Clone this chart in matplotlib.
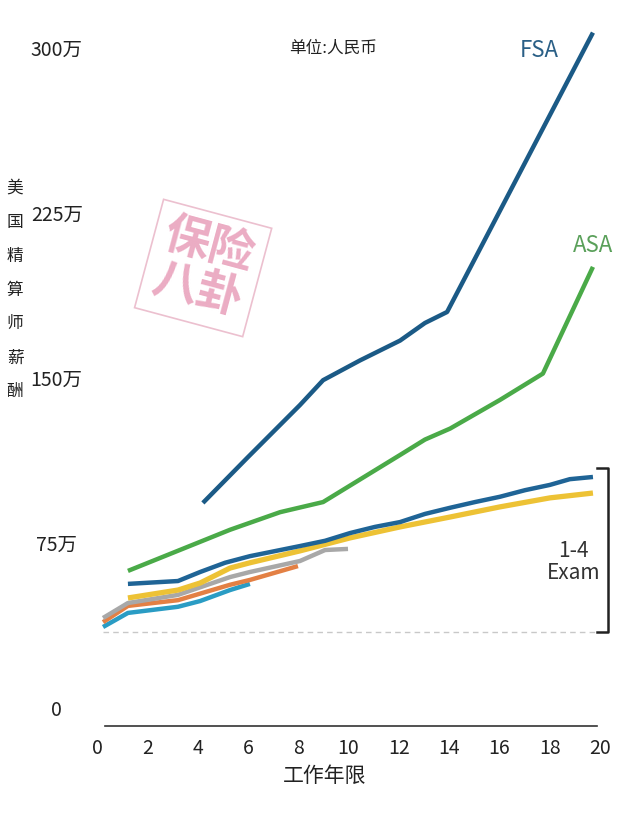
import matplotlib.pyplot as plt

plt.rcParams['font.family'] = ['Noto Sans CJK SC', 'DejaVu Sans']

# 数据 (单位: 万元人民币)
fsa_x = [4.21, 6.0, 8.07, 8.99, 10.46, 12.05, 13.04, 13.92, 19.72]
fsa_y = [93.2, 114, 137.7, 149, 158, 167, 175, 180, 307]

asa_x = [1.23, 5.29, 7.28, 8.99, 12.05, 13.04, 14.04, 16.02, 17.73, 19.72]
asa_y = [62.3, 81, 89, 93.6, 115, 122, 127, 140, 152, 200.5]

blue_x = [1.23, 3.22, 4.1, 5.09, 6.08, 8.07, 9.07, 10.06, 11.05, 12.05, 13.04,
          14.04, 15.03, 16.02, 17.02, 18.01, 18.8, 19.72]
blue_y = [56.4, 57.7, 61.8, 66, 69, 73.6, 76, 79.5, 82.3, 84.5, 88.2,
          91, 93.6, 96, 99, 101.4, 104, 105]

yellow_x = [1.23, 3.22, 4.1, 5.29, 6.08, 8.07, 10.06, 12.05, 14.04, 16.02, 18.01, 19.72]
yellow_y = [50, 53.6, 56.8, 63.6, 66, 71.4, 77.3, 82.3, 86.8, 91.4, 95.5, 97.7]

gray_x = [0.24, 1.23, 3.22, 5.29, 6.08, 8.07, 9.07, 9.98]
gray_y = [40.9, 47.7, 51.4, 59.5, 61.8, 66.8, 71.8, 72.3]

orange_x = [0.24, 1.23, 3.22, 5.29, 6.08, 7.99]
orange_y = [39, 46.4, 49, 56, 58.2, 64.5]

teal_x = [0.24, 1.23, 3.22, 4.1, 5.29, 6.08]
teal_y = [36.8, 43.2, 46, 48.6, 53.6, 56.4]

y_ticks = [0, 75, 150, 225, 300]
y_labels = ['0', '75万', '150万', '225万', '300万']
x_ticks = list(range(0, 21, 2))
exam_low, exam_high = 34.5, 109

fig = plt.figure(figsize=(6.4, 8.32), dpi=100)
ax = fig.add_axes([97 / 640, 1 - 726 / 832, 503 / 640, 700 / 832])

lw = 3.2
ax.plot(teal_x, teal_y, color='#2a9cc4', lw=lw, solid_capstyle='butt')
ax.plot(orange_x, orange_y, color='#e38044', lw=lw, solid_capstyle='butt')
ax.plot(gray_x, gray_y, color='#a8a8a8', lw=lw, solid_capstyle='butt')
ax.plot(yellow_x, yellow_y, color='#edc235', lw=lw + 0.6, solid_capstyle='butt')
ax.plot(blue_x, blue_y, color='#1f6496', lw=lw, solid_capstyle='butt')
ax.plot(asa_x, asa_y, color='#4aaa48', lw=lw, solid_capstyle='butt')
ax.plot(fsa_x, fsa_y, color='#1b5a86', lw=lw, solid_capstyle='butt')

# 虚线基准
ax.plot([0.24, 19.9], [exam_low, exam_low], color='#c8c8c8', lw=1, ls=(0, (4, 3)))

# 1-4 Exam 括号
ax.plot([19.9, 20.32, 20.32, 19.9], [exam_high, exam_high, exam_low, exam_low],
        color='#222222', lw=1.8, clip_on=False)
ax.text(18.96, 66.4, '1-4\nExam', ha='center', va='center', fontsize=15,
        color='#333333', linespacing=1.0)

ax.text(17.6, 299, 'FSA', ha='center', va='center', fontsize=16, color='#2a5f86')
ax.text(19.72, 210, 'ASA', ha='center', va='center', fontsize=16, color='#5aa05a')
ax.text(9.38, 300, '单位:人民币', ha='center', va='center', fontsize=12, color='#222222')

# 印章
ax.text(4.22, 200, '保险\n八卦', ha='center', va='center', fontsize=33, fontweight='bold',
        color='#e9a3bd', rotation=-15, linespacing=1.0, alpha=0.9,
        bbox=dict(boxstyle='square,pad=0.22', fc='none', ec='#ecc0cf', lw=1.2))

ax.set_xlim(0, 20)
ax.set_ylim(-8.2, 310)
ax.set_xticks(x_ticks)
ax.set_yticks(y_ticks)
ax.set_yticklabels(y_labels)
ax.tick_params(axis='both', length=0, labelsize=14, colors='#222222')
ax.tick_params(axis='x', pad=9)
ax.tick_params(axis='y', pad=29)
for lab in ax.get_yticklabels():
    lab.set_ha('center')

for s in ['top', 'right', 'left']:
    ax.spines[s].set_visible(False)
ax.spines['bottom'].set_bounds(0.32, 19.88)
ax.spines['bottom'].set_color('#333333')
ax.spines['bottom'].set_linewidth(1.2)

ax.set_xlabel('工作年限', fontsize=15, color='#222222')
ax.xaxis.set_label_coords((325 - 97) / 503, -0.055)

fig.text(15 / 640, 1 - 290 / 832, '\n'.join('美国精算师薪酬'), ha='center', va='center',
         fontsize=12, color='#222222', linespacing=2.3)

fig.savefig('out.png', dpi=100)
